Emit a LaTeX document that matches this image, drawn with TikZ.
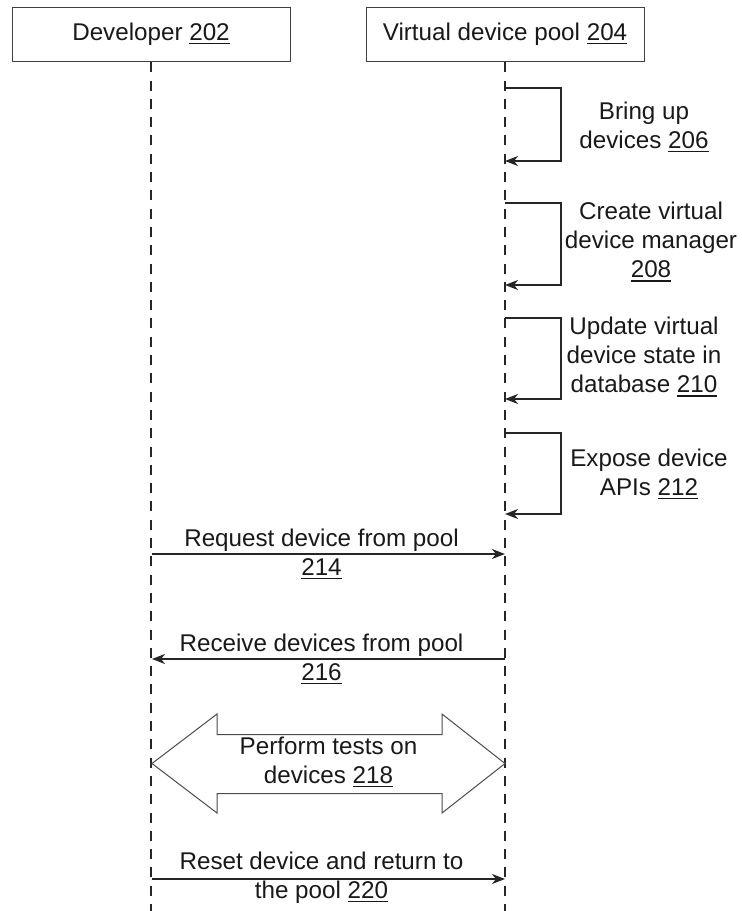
\documentclass[tikz,border=0pt]{standalone}
\usepackage{fontspec}
\setmainfont{Liberation Sans}
\usetikzlibrary{arrows.meta,calc}

% underlined reference numeral
\newcommand\ulnum[1]{\setbox0\hbox{#1}\rlap{\rule[-3.6pt]{\wd0}{1.1pt}}\box0}

\begin{document}
\begin{tikzpicture}[x=1pt,y=-1pt,
  every node/.style={font=\fontsize{24.2}{29}\selectfont, text=black!90},
  actor/.style={draw=black!75, line width=1pt, minimum width=278pt, minimum height=54.5pt, inner sep=0pt},
  lifeline/.style={draw=black!85, line width=2.2pt, dash pattern=on 10pt off 8.3pt},
  msg/.style={draw=black!85, line width=2pt, -{Stealth[length=13pt,width=10pt,inset=4pt]}},
  note/.style={align=center, inner sep=0pt},
  bigarrow/.style={draw=black!70, line width=1pt, fill=white, line join=miter}]

\useasboundingbox (0,0) rectangle (742,911);

% participants
\node[actor] (dev)  at (151,34.5) {Developer \ulnum{202}};
\node[actor] (pool) at (505,34.5) {Virtual device pool \ulnum{204}};

% lifelines
\coordinate (devend)  at (dev.south |- 0,911);
\coordinate (poolend) at (pool.south |- 0,911);
\draw[lifeline] (dev.south) -- (devend);
\draw[lifeline] (pool.south) -- (poolend);

% self-calls on the pool lifeline
\coordinate (s1a) at (505,88);  \coordinate (s1b) at (505,161);
\coordinate (s2a) at (505,203); \coordinate (s2b) at (505,285);
\coordinate (s3a) at (505,318); \coordinate (s3b) at (505,399);
\coordinate (s4a) at (505,433); \coordinate (s4b) at (505,514);
\draw[msg] (s1a) -- ++(56,0) |- (s1b);
\draw[msg] (s2a) -- ++(56,0) |- (s2b);
\draw[msg] (s3a) -- ++(56,0) |- (s3b);
\draw[msg] (s4a) -- ++(56,0) |- (s4b);

\node[note] (n206) at (644,127) {Bring up\\devices \ulnum{206}};
\node[note] (n208) at (651,242) {Create virtual\\device manager\\\ulnum{208}};
\node[note] (n210) at (644,357) {Update virtual\\device state in\\database \ulnum{210}};
\node[note] (n212) at (649,474) {Expose device\\APIs \ulnum{212}};

% messages between the two lifelines
\coordinate (m1a) at (152,554); \coordinate (m1b) at (505,554);
\draw[msg] (m1a) -- node[note, xshift=-7pt] (n214) {Request device from pool\\\ulnum{214}} (m1b);

\coordinate (m2a) at (505,659); \coordinate (m2b) at (152,659);
\draw[msg] (m2a) -- node[note, xshift=-7pt] (n216) {Receive devices from pool\\\ulnum{216}} (m2b);

% two-way block arrow
\coordinate (tl) at (152,763.5); \coordinate (tr) at (505,763.5);
\draw[bigarrow] (tl) -- ($(tl)+(65,-49.5)$) -- ($(tl)+(65,-29)$) -- ($(tr)+(-63,-29)$)
  -- ($(tr)+(-63,-49.5)$) -- (tr) -- ($(tr)+(-63,49.5)$) -- ($(tr)+(-63,30)$)
  -- ($(tl)+(65,30)$) -- ($(tl)+(65,49.5)$) -- cycle;
\node[note] (n218) at (328.5,762) {Perform tests on\\devices \ulnum{218}};

\coordinate (m3a) at (152,879); \coordinate (m3b) at (505,879);
\draw[msg] (m3a) -- node[note, xshift=-7pt, yshift=1pt] (n220) {Reset device and return to\\the pool \ulnum{220}} (m3b);

\end{tikzpicture}
\end{document}
